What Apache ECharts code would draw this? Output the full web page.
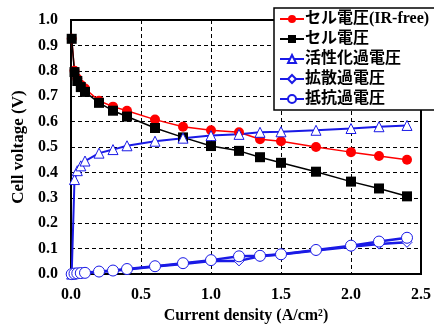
<!DOCTYPE html>
<html>
<head>
<meta charset="utf-8">
<script src="https://cdn.jsdelivr.net/npm/echarts@6/dist/echarts.min.js"></script>
<style>
  body { margin: 0; background: #fff; }
  #chart { width: 434px; height: 329px; }
</style>
</head>
<body>
<div id="chart"></div>
<script>
  // 電流密度 (A/cm2)
  var currentDensity = [0.005, 0.025, 0.045, 0.07, 0.1, 0.2, 0.3, 0.4, 0.6, 0.8, 1.0, 1.2, 1.35, 1.5, 1.75, 2.0, 2.2, 2.4];
  var cellIRFree = [0.926, 0.80, 0.77, 0.745, 0.73, 0.682, 0.659, 0.643, 0.608, 0.58, 0.566, 0.558, 0.531, 0.523, 0.50, 0.48, 0.465, 0.45];
  var cellVoltage = [0.926, 0.795, 0.76, 0.736, 0.717, 0.674, 0.643, 0.62, 0.575, 0.538, 0.504, 0.485, 0.46, 0.438, 0.403, 0.364, 0.337, 0.306];
  var activation = [0, 0.372, 0.407, 0.426, 0.445, 0.476, 0.49, 0.505, 0.523, 0.535, 0.545, 0.55, 0.558, 0.56, 0.566, 0.573, 0.58, 0.585];
  var diffusion = [0, 0.002, 0.003, 0.004, 0.005, 0.008, 0.013, 0.018, 0.03, 0.04, 0.052, 0.052, 0.07, 0.077, 0.093, 0.108, 0.118, 0.125];
  var resistance = [0, 0.002, 0.003, 0.004, 0.005, 0.01, 0.014, 0.02, 0.031, 0.043, 0.055, 0.07, 0.072, 0.078, 0.095, 0.112, 0.128, 0.143];
  var seriesNames = ['セル電圧(IR-free)', 'セル電圧', '活性化過電圧', '拡散過電圧', '抵抗過電圧'];

  var blue = '#1a1ae6';
  var font = '"Liberation Serif", "Noto Sans CJK JP", serif';

  function pairs(ys) {
    return currentDensity.map(function (x, i) { return [x, ys[i]]; });
  }

  var myChart = echarts.init(document.getElementById('chart'));
  var option = {
    animation: false,
    grid: {
      left: 71, right: 10, top: 20, bottom: 51,
      show: true, borderColor: '#000', borderWidth: 2
    },
    legend: {
      orient: 'vertical',
      left: 274, top: 8,
      data: seriesNames,
      backgroundColor: '#fff',
      borderColor: '#000',
      borderWidth: 1.5,
      borderRadius: 0,
      padding: [3, 8, 3, 5],
      itemGap: 4,
      itemWidth: 24,
      itemHeight: 10,
      textStyle: { fontFamily: font, fontWeight: 'bold', fontSize: 16, color: '#000', padding: [0, 0, 0, -4] }
    },
    xAxis: {
      type: 'value',
      min: 0, max: 2.5, interval: 0.5,
      name: 'Current density (A/cm²)',
      nameLocation: 'middle',
      nameGap: 33,
      nameTextStyle: { fontFamily: font, fontWeight: 'bold', fontSize: 16, color: '#000' },
      axisLine: { show: true, lineStyle: { color: '#000', width: 2 } },
      axisTick: { show: false },
      axisLabel: {
        margin: 13,
        fontFamily: font, fontWeight: 'bold', fontSize: 16, color: '#000',
        formatter: function (v) { return v.toFixed(1); }
      },
      splitLine: { show: true, lineStyle: { color: '#000', type: [4, 3], width: 1 } }
    },
    yAxis: {
      type: 'value',
      min: 0, max: 1.0, interval: 0.1,
      name: 'Cell voltage (V)',
      nameLocation: 'middle',
      nameGap: 42,
      nameTextStyle: { fontFamily: font, fontWeight: 'bold', fontSize: 17, color: '#000' },
      axisLine: { show: true, lineStyle: { color: '#000', width: 2 } },
      axisTick: { show: false },
      axisLabel: {
        margin: 13,
        fontFamily: font, fontWeight: 'bold', fontSize: 16, color: '#000',
        formatter: function (v) { return v.toFixed(1); }
      },
      splitLine: { show: true, lineStyle: { color: '#000', type: [4, 3], width: 1 } }
    },
    series: [
      {
        name: seriesNames[0], type: 'line', data: pairs(cellIRFree),
        symbol: 'circle', symbolSize: 10,
        lineStyle: { color: '#ff0000', width: 1.5 },
        itemStyle: { color: '#ff0000' }
      },
      {
        name: seriesNames[1], type: 'line', data: pairs(cellVoltage),
        symbol: 'rect', symbolSize: 10,
        lineStyle: { color: '#000', width: 1.5 },
        itemStyle: { color: '#000' }
      },
      {
        name: seriesNames[2], type: 'line', data: pairs(activation),
        symbol: 'triangle', symbolSize: 10,
        lineStyle: { color: blue, width: 2 },
        itemStyle: { color: '#fff', borderColor: blue, borderWidth: 1 }
      },
      {
        name: seriesNames[3], type: 'line', data: pairs(diffusion),
        symbol: 'diamond', symbolSize: 10,
        lineStyle: { color: blue, width: 2.5 },
        itemStyle: { color: '#fff', borderColor: blue, borderWidth: 1 }
      },
      {
        name: seriesNames[4], type: 'line', data: pairs(resistance),
        symbol: 'circle', symbolSize: 11,
        lineStyle: { color: blue, width: 2.5 },
        itemStyle: { color: '#fff', borderColor: blue, borderWidth: 1 }
      }
    ]
  };
  myChart.setOption(option);
</script>
</body>
</html>
